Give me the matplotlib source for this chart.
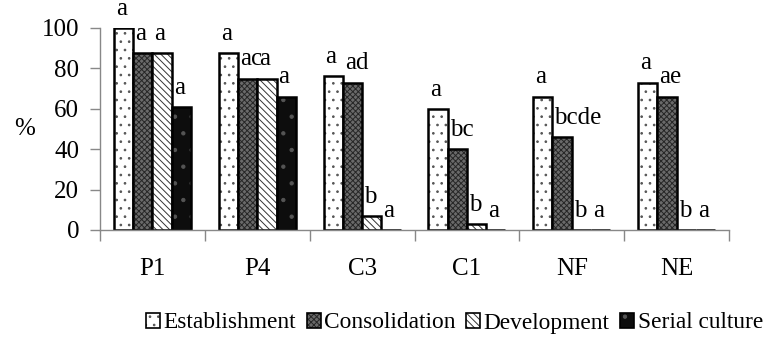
import matplotlib
matplotlib.use("Agg")
import matplotlib.pyplot as plt
from matplotlib.patches import Patch
import numpy as np

categories = ["P1", "P4", "C3", "C1", "NF", "NE"]
series_names = ["Establishment", "Consolidation", "Development", "Serial culture"]

establishment = [100, 87.5, 76, 60, 66, 73]
consolidation = [87.5, 75, 73, 40, 46, 66]
development = [87.5, 75, 7, 3, 0, 0]
serial_culture = [61, 66, 0, 0, 0, 0]

est_letters = ["a", "a", "a", "a", "a", "a"]
cons_letters = ["a", "ac", "ad", "bc", "bcde", "ae"]
dev_letters = ["a", "a", "b", "b", "b", "b"]
ser_letters = ["a", "a", "a", "a", "a", "a"]

yticks = [0, 20, 40, 60, 80, 100]

plt.rcParams["font.family"] = ["Liberation Serif", "DejaVu Serif"]
plt.rcParams["hatch.linewidth"] = 0.7

# face colour, hatch colour, hatch
styles = [
    ("white", "#555555", ".."),
    ("#6a6a6a", "#262626", "xxxxxx"),
    ("white", "#333333", "\\\\\\\\\\"),
    ("#0d0d0d", "#555555", "."),
]

fs = 18

fig = plt.figure(figsize=(7.65, 3.37), dpi=100)
ax = fig.add_axes([100 / 765, 107 / 337, 629 / 765, 202 / 337])

x = np.arange(len(categories))
w = 0.184
all_vals = [establishment, consolidation, development, serial_culture]
all_letters = [est_letters, cons_letters, dev_letters, ser_letters]

for k, (vals, letters) in enumerate(zip(all_vals, all_letters)):
    face, hc, hatch = styles[k]
    pos = x + (k - 1.5) * w
    ax.bar(pos, vals, w, color=face, edgecolor=hc, hatch=hatch, linewidth=0)
    ax.bar(pos, vals, w, fill=False, edgecolor="black", linewidth=1.8)
    for p, v, t in zip(pos, vals, letters):
        ax.annotate(t, (p - w / 2, v), xytext=(1.5, 9.5), textcoords="offset points",
                    ha="left", va="baseline", fontsize=fs)

ax.set_xlim(-0.5, len(categories) - 0.5)
ax.set_ylim(0, 100)
ax.set_yticks(yticks)
ax.set_xticks(x)
ax.set_xticklabels(categories)
ax.set_xticks(np.arange(len(categories) + 1) - 0.5, minor=True)
ax.tick_params(axis="x", which="major", length=0, pad=20, labelsize=fs)
ax.tick_params(axis="x", which="minor", length=8, color="#888888", width=1)
ax.tick_params(axis="y", length=7, color="#888888", width=1, labelsize=fs, pad=8)

for s in ["top", "right"]:
    ax.spines[s].set_visible(False)
for s in ["left", "bottom"]:
    ax.spines[s].set_color("#888888")
    ax.spines[s].set_linewidth(1)

ax.set_ylabel("%", rotation=0, fontsize=fs, labelpad=12, va="center")

handles = []
for face, hc, hatch in styles:
    handles.append((Patch(facecolor=face, edgecolor=hc, hatch=hatch, linewidth=0),
                    Patch(fill=False, edgecolor="black", linewidth=1.2)))
fig.legend(handles, series_names, loc="center right", bbox_to_anchor=(763 / 765, 1 - 323 / 337),
           ncol=4, frameon=False, fontsize=16.8, handlelength=0.6, handleheight=0.6,
           handletextpad=0.15, columnspacing=0.45, borderaxespad=0, borderpad=0)

fig.savefig("out.png", dpi=100)
